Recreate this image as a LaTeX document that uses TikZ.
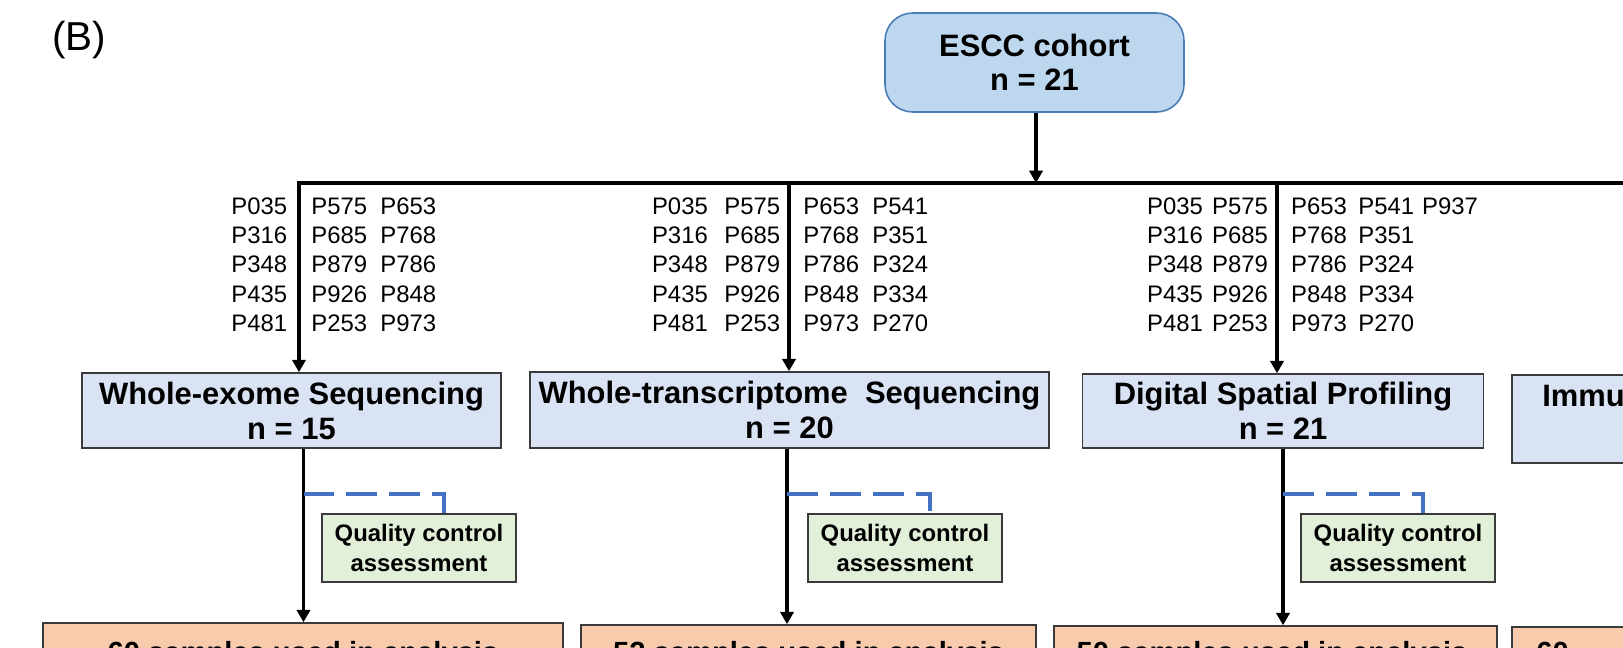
\documentclass[tikz,border=0pt]{standalone}
\usepackage{fontspec}
\setmainfont{Liberation Sans}
\usetikzlibrary{arrows.meta}
\definecolor{esccfill}{HTML}{BDD7EE}
\definecolor{esccdraw}{HTML}{4A7DB5}
\definecolor{lvlfill}{HTML}{DAE3F3}
\definecolor{qcfill}{HTML}{E2F0D9}
\definecolor{orfill}{HTML}{F8CBAD}
\definecolor{dashblue}{HTML}{4472C4}
\definecolor{boxdraw}{HTML}{3A3A3A}
\tikzset{
  conn/.style={line width=1.9pt, black},
  arr/.style={conn, -{Triangle[width=7.5pt,length=7pt]}},
  qcdash/.style={line width=2.2pt, dashblue, dash pattern=on 17.6pt off 6.8pt},
  esccbox/.style={draw=esccdraw, line width=0.9pt, fill=esccfill, rounded corners=0.55cm,
    font=\bfseries\fontsize{17.6}{19.3}\selectfont, align=center, inner sep=0pt},
  lvlbox/.style={draw=boxdraw, line width=0.9pt, fill=lvlfill,
    font=\bfseries\fontsize{17.6}{19.9}\selectfont, align=center, inner sep=0pt},
  qcbox/.style={draw=boxdraw, line width=0.9pt, fill=qcfill,
    font=\bfseries\fontsize{13.6}{17}\selectfont, align=center, inner sep=0pt},
  orbox/.style={draw=boxdraw, line width=0.9pt, fill=orfill, inner sep=0pt},
  ortext/.style={font=\bfseries\fontsize{16.6}{19}\selectfont, inner sep=0pt},
  pid/.style={font=\fontsize{13.6}{16}\selectfont, inner sep=0pt, anchor=west,
    text height=0.72em, text depth=0pt},
}
\begin{document}
\begin{tikzpicture}[x=0.02cm, y=-0.02cm]
\useasboundingbox (0,0) rectangle (1623,648);
\clip (0,0) rectangle (1623,648);

% label
\node[font=\fontsize{23}{27}\selectfont, inner sep=0pt] (lab) at (79,40) {(B)};

% top node
\node[esccbox, minimum width=5.98cm, minimum height=1.98cm] (escc) at (1034.5,62.5) {ESCC cohort\\n = 21};

% second level
\node[lvlbox, minimum width=8.38cm, minimum height=1.5cm] (wes) at (291.5,410.5) {Whole-exome Sequencing\\n = 15};
\node[lvlbox, minimum width=10.38cm, minimum height=1.52cm] (wts) at (789.5,410) {Whole-transcriptome\ \ Sequencing\\n = 20};
\node[lvlbox, minimum width=8.02cm, minimum height=1.48cm] (dsp) at (1283,411) {Digital Spatial Profiling\\n = 21};
\node[lvlbox, minimum width=8cm, minimum height=1.76cm] (imm) at (1712,419) {};
\node[font=\bfseries\fontsize{17.6}{19.9}\selectfont, inner sep=0pt, anchor=west,
  text height=0.72em, text depth=0pt] (immt) at (1542,400) {Immu};

% QC boxes
\node[qcbox, minimum width=3.88cm, minimum height=1.36cm] (qc1) at (419,548) {Quality control\\assessment};
\node[qcbox, minimum width=3.88cm, minimum height=1.36cm] (qc2) at (905,548) {Quality control\\assessment};
\node[qcbox, minimum width=3.88cm, minimum height=1.36cm] (qc3) at (1398,548) {Quality control\\assessment};

% bottom boxes
\node[orbox, minimum width=10.4cm, minimum height=2cm] (o1) at (303,673) {};
\node[orbox, minimum width=9.1cm, minimum height=2cm] (o2) at (808.5,675) {};
\node[orbox, minimum width=8.86cm, minimum height=2cm] (o3) at (1275.5,676) {};
\node[orbox, minimum width=8cm, minimum height=2cm] (o4) at (1712,677) {};
\node[ortext, anchor=base] (o1t) at (303,662) {60 samples used in analysis};
\node[ortext, anchor=base] (o2t) at (808.5,662) {52 samples used in analysis};
\node[ortext, anchor=base] (o3t) at (1272,662) {50 samples used in analysis};
\node[ortext, anchor=base west] (o4t) at (1536,662) {60};

% patient IDs
\foreach \colx/\lst/\nm in {231/{P035,P316,P348,P435,P481}/wa, 311/{P575,P685,P879,P926,P253}/wb, 380/{P653,P768,P786,P848,P973}/wc,
  651.7/{P035,P316,P348,P435,P481}/ta, 724/{P575,P685,P879,P926,P253}/tb, 803/{P653,P768,P786,P848,P973}/tc, 872/{P541,P351,P324,P334,P270}/td,
  1146.7/{P035,P316,P348,P435,P481}/da, 1211.7/{P575,P685,P879,P926,P253}/db, 1290.7/{P653,P768,P786,P848,P973}/dc, 1358/{P541,P351,P324,P334,P270}/dd, 1421.7/{P937}/de}{
  \foreach \p [count=\i from 0] in \lst {
    \node[pid] (\nm-\i) at (\colx,{208+29.25*\i}) {\p};
  }
}

% connectors
\coordinate (hlL) at (299,183);
\coordinate (hlR) at (1630,183);
\coordinate (t2) at (789,183);
\coordinate (t3) at (1277,183);
\coordinate (hc) at (1036,183);
\draw[arr] (escc.south -| hc) -- (hc);
\draw[conn] ([xshift=-0.95pt]hlL) -- (hlR);
\draw[arr] (hlL) -- (hlL |- wes.north);
\draw[arr] (t2) -- (t2 |- wts.north);
\draw[arr] (t3) -- (t3 |- dsp.north);

\coordinate (w1) at (303.5,494);
\coordinate (w2) at (787,494);
\coordinate (w3) at (1283,494);
\coordinate (q1) at (444,494);
\coordinate (q2) at (930,494);
\coordinate (q3) at (1423,494);
\draw[arr] (w1 |- wes.south) -- (w1 |- o1.north);
\draw[arr] (w2 |- wts.south) -- (w2 |- o2.north);
\draw[arr] (w3 |- dsp.south) -- (w3 |- o3.north);
\draw[qcdash] (w1) -- (q1) -- (q1 |- qc1.north);
\draw[qcdash] (w2) -- (q2) -- (q2 |- qc2.north);
\draw[qcdash] (w3) -- (q3) -- (q3 |- qc3.north);
\end{tikzpicture}
\end{document}
